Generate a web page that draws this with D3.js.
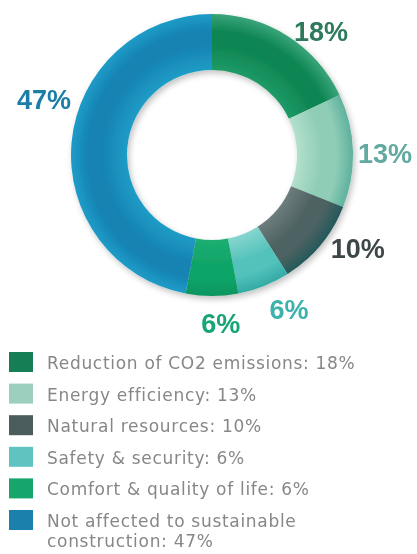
<!DOCTYPE html>
<html>
<head>
<meta charset="utf-8">
<script src="https://cdn.jsdelivr.net/npm/d3@7"></script>
<style>
  html, body { margin: 0; padding: 0; background: #fff; }
  svg { display: block; }
</style>
</head>
<body>
<svg id="chart" width="417" height="554"></svg>
<script>
// Share of activity by sustainable-construction theme
const categories = [
  "Reduction of CO2 emissions",
  "Energy efficiency",
  "Natural resources",
  "Safety & security",
  "Comfort & quality of life",
  "Not affected to sustainable construction"
];
const values = [18, 13, 10, 6, 6, 47];
const valueLabels = ["18%", "13%", "10%", "6%", "6%", "47%"];
const legendLines = [
  ["Reduction of CO2 emissions: 18%"],
  ["Energy efficiency: 13%"],
  ["Natural resources: 10%"],
  ["Safety & security: 6%"],
  ["Comfort & quality of life: 6%"],
  ["Not affected to sustainable", "construction: 47%"]
];

// Ring shading: inner edge, middle band, outer edge
const sliceShades = [
  ["#1c9a66", "#0f8653", "#3aa57a"],
  ["#b2e0cc", "#8fcdb6", "#5eb19e"],
  ["#6e7c7c", "#4d6262", "#24595a"],
  ["#86d6cf", "#52c2bb", "#33aaa5"],
  ["#1cae72", "#10a468", "#0f9660"],
  ["#1f9cc6", "#1683b3", "#1d9cc8"]
];
const legendColors = ["#167e54", "#9ccfbd", "#4b5b5d", "#5ec3bf", "#14a56b", "#1a80ad"];
const labelColors = ["#2e7a5b", "#62aaa1", "#3c4747", "#3db2ad", "#14a673", "#1d7ea7"];

const svg = d3.select("#chart");
const defs = svg.append("defs");

const cx = 212, cy = 155, outerR = 141, innerR = 85;

const soft = defs.append("filter").attr("id", "soft")
  .attr("x", "-10%").attr("y", "-10%").attr("width", "120%").attr("height", "120%");
soft.append("feGaussianBlur").attr("stdDeviation", 0.7);

const shadow = defs.append("filter").attr("id", "shadow")
  .attr("x", "-20%").attr("y", "-20%").attr("width", "140%").attr("height", "140%");
shadow.append("feGaussianBlur").attr("in", "SourceAlpha").attr("stdDeviation", 3).attr("result", "b");
shadow.append("feOffset").attr("in", "b").attr("dx", 2).attr("dy", 3).attr("result", "o");
shadow.append("feComponentTransfer").attr("in", "o").attr("result", "s")
  .append("feFuncA").attr("type", "linear").attr("slope", 0.25);
const merge = shadow.append("feMerge");
merge.append("feMergeNode").attr("in", "s");
merge.append("feMergeNode").attr("in", "SourceGraphic");

const k0 = innerR / outerR;
sliceShades.forEach((s, i) => {
  const g = defs.append("radialGradient").attr("id", "shade" + i)
    .attr("gradientUnits", "userSpaceOnUse")
    .attr("cx", 0).attr("cy", 0).attr("r", outerR);
  g.append("stop").attr("offset", k0).attr("stop-color", s[0]);
  g.append("stop").attr("offset", k0 + (1 - k0) * 0.45).attr("stop-color", s[1]);
  g.append("stop").attr("offset", k0 + (1 - k0) * 0.7).attr("stop-color", s[1]);
  g.append("stop").attr("offset", 1).attr("stop-color", s[2]);
});

const pie = d3.pie().value(d => d).sort(null);
const arcs = pie(values);
const arc = d3.arc().innerRadius(innerR).outerRadius(outerR);

const ring = svg.append("g")
  .attr("transform", `translate(${cx},${cy})`)
  .attr("filter", "url(#shadow)");

ring.selectAll("path.slice")
  .data(arcs)
  .join("path")
  .attr("class", "slice")
  .attr("d", arc)
  .attr("fill", (d, i) => `url(#shade${i})`)
  .attr("filter", "url(#soft)");

// Value labels placed around the ring, each turned slightly off its slice middle
const labelTurn = [9, 1, -7, -5, -3, 13];
const labelRadius = [165, 173, 173, 172, 168, 177];
const labels = svg.append("g")
  .attr("transform", `translate(${cx},${cy})`)
  .attr("filter", "url(#soft)");

labels.selectAll("text")
  .data(arcs)
  .join("text")
  .each(function (d, i) {
    const mid = (d.startAngle + d.endAngle) / 2 + labelTurn[i] * Math.PI / 180;
    const r = labelRadius[i];
    d3.select(this)
      .attr("x", Math.sin(mid) * r)
      .attr("y", -Math.cos(mid) * r + 10);
  })
  .attr("text-anchor", "middle")
  .attr("font-family", "'Liberation Sans', Arial, sans-serif")
  .attr("font-weight", "bold")
  .attr("font-size", 27)
  .attr("fill", (d, i) => labelColors[i])
  .text((d, i) => valueLabels[i]);

// Legend
const rowStep = 31.6, lineStep = 20;
const legend = svg.append("g")
  .attr("transform", "translate(9,352)")
  .attr("filter", "url(#soft)");

const rows = legend.selectAll("g.row")
  .data(categories)
  .join("g")
  .attr("class", "row")
  .attr("transform", (d, i) => `translate(0,${i * rowStep})`);

rows.append("rect")
  .attr("width", 24).attr("height", 20)
  .attr("fill", (d, i) => legendColors[i]);

rows.append("text")
  .attr("x", 38)
  .attr("font-family", "'DejaVu Sans', sans-serif")
  .attr("font-size", 17)
  .attr("letter-spacing", 0.7)
  .attr("fill", "#878787")
  .each(function (d, i) {
    d3.select(this).selectAll("tspan")
      .data(legendLines[i])
      .join("tspan")
      .attr("x", 38)
      .attr("y", (t, j) => 17 + j * lineStep)
      .text(t => t);
  });
</script>
</body>
</html>
